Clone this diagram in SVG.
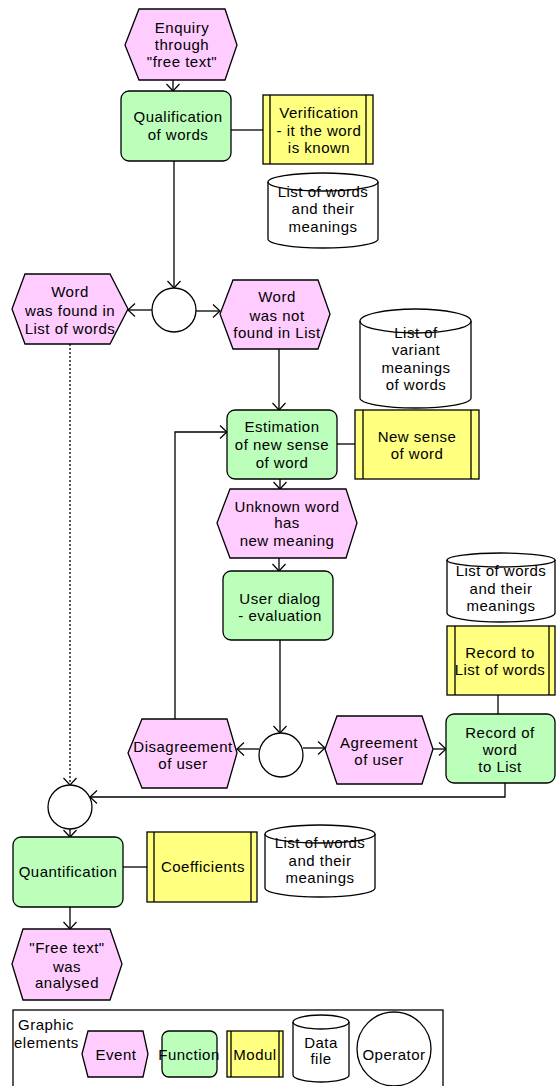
<svg xmlns="http://www.w3.org/2000/svg" width="556" height="1086" viewBox="0 0 556 1086">
<defs>
<style>
.ev{fill:#FFCCFF;stroke:#000;stroke-width:1.3}
.fn{fill:#BBFFBB;stroke:#000;stroke-width:1.3}
.md{fill:#FFFF80;stroke:#000;stroke-width:1.3}
.bar{stroke:#000;stroke-width:1.3}
.df{fill:#FFFFFF;stroke:#000;stroke-width:1.3}
.op{fill:#FFFFFF;stroke:#000;stroke-width:1.3}
.cn{fill:none;stroke:#000;stroke-width:1.3}
.dot{fill:none;stroke:#000;stroke-width:1.3;stroke-dasharray:2,2}
text{font-family:"Liberation Sans",Arial,sans-serif;font-size:15px;letter-spacing:0.5px;fill:#000;text-anchor:middle}
.lt{text-anchor:start}
</style>
<marker id="arr" markerWidth="10" markerHeight="14" refX="8" refY="7" orient="auto" markerUnits="userSpaceOnUse">
<path d="M1,0.5 L8,7 L1,13.5" fill="none" stroke="#000" stroke-width="1.2"/>
</marker>
</defs>
<rect width="556" height="1086" fill="#FFFFFF"/>

<g id="connectors">
<path class="cn" d="M173,80 V91" marker-end="url(#arr)"/>
<path class="cn" d="M231,130 H263"/>
<path class="cn" d="M174,161 V288" marker-end="url(#arr)"/>
<path class="cn" d="M152,310 H128" marker-end="url(#arr)"/>
<path class="cn" d="M196,311 H220" marker-end="url(#arr)"/>
<path class="cn" d="M279,349 V410" marker-end="url(#arr)"/>
<path class="cn" d="M337,444 H355"/>
<path class="cn" d="M280,479 V489" marker-end="url(#arr)"/>
<path class="cn" d="M279,558 V571" marker-end="url(#arr)"/>
<path class="cn" d="M280,640 V733" marker-end="url(#arr)"/>
<path class="cn" d="M259,749 H237" marker-end="url(#arr)"/>
<path class="cn" d="M303,748 H325" marker-end="url(#arr)"/>
<path class="cn" d="M175,719 V432 H227" marker-end="url(#arr)"/>
<path class="cn" d="M433,749 H446" marker-end="url(#arr)"/>
<path class="cn" d="M498,695 V714"/>
<path class="cn" d="M505,783 V797 H90" marker-end="url(#arr)"/>
<path class="dot" d="M70,344 V785" marker-end="url(#arr)"/>
<path class="cn" d="M70,829 V837" marker-end="url(#arr)"/>
<path class="cn" d="M123,867 H147"/>
<path class="cn" d="M70,907 V929" marker-end="url(#arr)"/>
</g>

<g id="enquiry">
<polygon class="ev" points="139,9 225,9 237,45 225,80 139,80 125,45"/>
<text x="182" y="33">Enquiry</text>
<text x="182" y="50">through</text>
<text x="182" y="67">"free text"</text>
</g>

<g id="qualification">
<rect class="fn" x="121" y="91" width="110" height="70" rx="8"/>
<text x="178" y="122">Qualification</text>
<text x="178" y="140">of words</text>
</g>

<g id="verification">
<rect class="md" x="263" y="95" width="110" height="69"/>
<line class="bar" x1="270" y1="95" x2="270" y2="164"/>
<line class="bar" x1="366" y1="95" x2="366" y2="164"/>
<text x="319" y="118">Verification</text>
<text x="319" y="136">- it the word</text>
<text x="319" y="153">is known</text>
</g>

<g id="datafile1">
<path class="df" d="M268,182 A55,9 0 0 1 378,182 V239 A55,9 0 0 1 268,239 Z"/>
<text x="323" y="197">List of words</text>
<text x="323" y="214">and their</text>
<text x="323" y="232">meanings</text>
<path class="cn" d="M268,182 A55,9 0 0 0 378,182"/>
</g>

<g id="operator1">
<circle class="op" cx="174" cy="310" r="22"/>
</g>

<g id="word-found">
<polygon class="ev" points="25,274 110,274 128,309 110,344 25,344 12,309"/>
<text x="70" y="297">Word</text>
<text x="70" y="316">was found in</text>
<text x="70" y="334">List of words</text>
</g>

<g id="word-not-found">
<polygon class="ev" points="233,280 318,280 330,314 318,349 233,349 220,314"/>
<text x="277" y="302">Word</text>
<text x="277" y="321">was not</text>
<text x="277" y="338">found in List</text>
</g>

<g id="datafile2">
<path class="df" d="M360,321 A55.5,12 0 0 1 471,321 V398 A55.5,10 0 0 1 360,398 Z"/>
<text x="416" y="338">List of</text>
<text x="416" y="355">variant</text>
<text x="416" y="373">meanings</text>
<text x="416" y="390">of words</text>
<path class="cn" d="M360,321 A55.5,12 0 0 0 471,321"/>
</g>

<g id="estimation">
<rect class="fn" x="227" y="410" width="110" height="69" rx="8"/>
<text x="282" y="432">Estimation</text>
<text x="282" y="450">of new sense</text>
<text x="282" y="468">of word</text>
</g>

<g id="new-sense">
<rect class="md" x="355" y="410" width="124" height="69"/>
<line class="bar" x1="363" y1="410" x2="363" y2="479"/>
<line class="bar" x1="471" y1="410" x2="471" y2="479"/>
<text x="417" y="442">New sense</text>
<text x="417" y="459">of word</text>
</g>

<g id="unknown-word">
<polygon class="ev" points="230,489 346,489 357,523 346,558 230,558 217,523"/>
<text x="287" y="512">Unknown word</text>
<text x="287" y="528">has</text>
<text x="287" y="546">new meaning</text>
</g>

<g id="user-dialog">
<rect class="fn" x="223" y="571" width="110" height="69" rx="8"/>
<text x="280" y="604">User dialog</text>
<text x="280" y="621">- evaluation</text>
</g>

<g id="operator2">
<circle class="op" cx="281" cy="755" r="22"/>
</g>

<g id="disagreement">
<polygon class="ev" points="142,719 227,719 237,753 227,788 142,788 128,753"/>
<text x="183" y="752">Disagreement</text>
<text x="183" y="769">of user</text>
</g>

<g id="agreement">
<polygon class="ev" points="337,716 422,716 433,749 422,784 337,784 325,749"/>
<text x="379" y="748">Agreement</text>
<text x="379" y="765">of user</text>
</g>

<g id="datafile3">
<path class="df" d="M447,560 A54,7 0 0 1 555,560 V613 A54,9 0 0 1 447,613 Z"/>
<text x="501" y="576">List of words</text>
<text x="501" y="594">and their</text>
<text x="501" y="611">meanings</text>
<path class="cn" d="M447,560 A54,7 0 0 0 555,560"/>
</g>

<g id="record-module">
<rect class="md" x="447" y="626" width="108" height="69"/>
<line class="bar" x1="455" y1="626" x2="455" y2="695"/>
<line class="bar" x1="549" y1="626" x2="549" y2="695"/>
<text x="500" y="658">Record to</text>
<text x="500" y="675">List of words</text>
</g>

<g id="record-word">
<rect class="fn" x="446" y="714" width="109" height="69" rx="8"/>
<text x="500" y="738">Record of</text>
<text x="500" y="755">word</text>
<text x="500" y="772">to List</text>
</g>

<g id="operator3">
<circle class="op" cx="70" cy="807" r="22"/>
</g>

<g id="quantification">
<rect class="fn" x="13" y="837" width="110" height="70" rx="8"/>
<text x="68" y="877">Quantification</text>
</g>

<g id="coefficients">
<rect class="md" x="147" y="832" width="110" height="70"/>
<line class="bar" x1="154" y1="832" x2="154" y2="902"/>
<line class="bar" x1="251" y1="832" x2="251" y2="902"/>
<text x="203" y="872">Coefficients</text>
</g>

<g id="datafile4">
<path class="df" d="M265,834 A55,9 0 0 1 375,834 V888 A55,9 0 0 1 265,888 Z"/>
<text x="320" y="848">List of words</text>
<text x="320" y="866">and their</text>
<text x="320" y="883">meanings</text>
<path class="cn" d="M265,834 A55,9 0 0 0 375,834"/>
</g>

<g id="free-text-analysed">
<polygon class="ev" points="23,929 110,929 122,964 110,1000 23,1000 12,964"/>
<text x="67" y="953">"Free text"</text>
<text x="67" y="972">was</text>
<text x="67" y="988">analysed</text>
</g>

<g id="legend">
<rect x="13" y="1010" width="430" height="100" fill="none" stroke="#000" stroke-width="1.3"/>
<text class="lt" x="18" y="1030">Graphic</text>
<text class="lt" x="14" y="1048">elements</text>
<polygon class="ev" points="88,1031 143,1031 148,1054 143,1077 88,1077 82,1054"/>
<text x="116" y="1060">Event</text>
<rect class="fn" x="162" y="1031" width="55" height="46" rx="7"/>
<text x="189" y="1060">Function</text>
<rect class="md" x="227" y="1031" width="56" height="46"/>
<line class="bar" x1="231" y1="1031" x2="231" y2="1077"/>
<line class="bar" x1="279" y1="1031" x2="279" y2="1077"/>
<text x="255" y="1060">Modul</text>
<path class="df" d="M293,1022 A28,7 0 0 1 349,1022 V1075 A28,7 0 0 1 293,1075 Z"/>
<path class="cn" d="M293,1022 A28,7 0 0 0 349,1022"/>
<text x="321" y="1048">Data</text>
<text x="321" y="1064">file</text>
<circle class="op" cx="394" cy="1049" r="37"/>
<text x="394" y="1060">Operator</text>
</g>
</svg>
